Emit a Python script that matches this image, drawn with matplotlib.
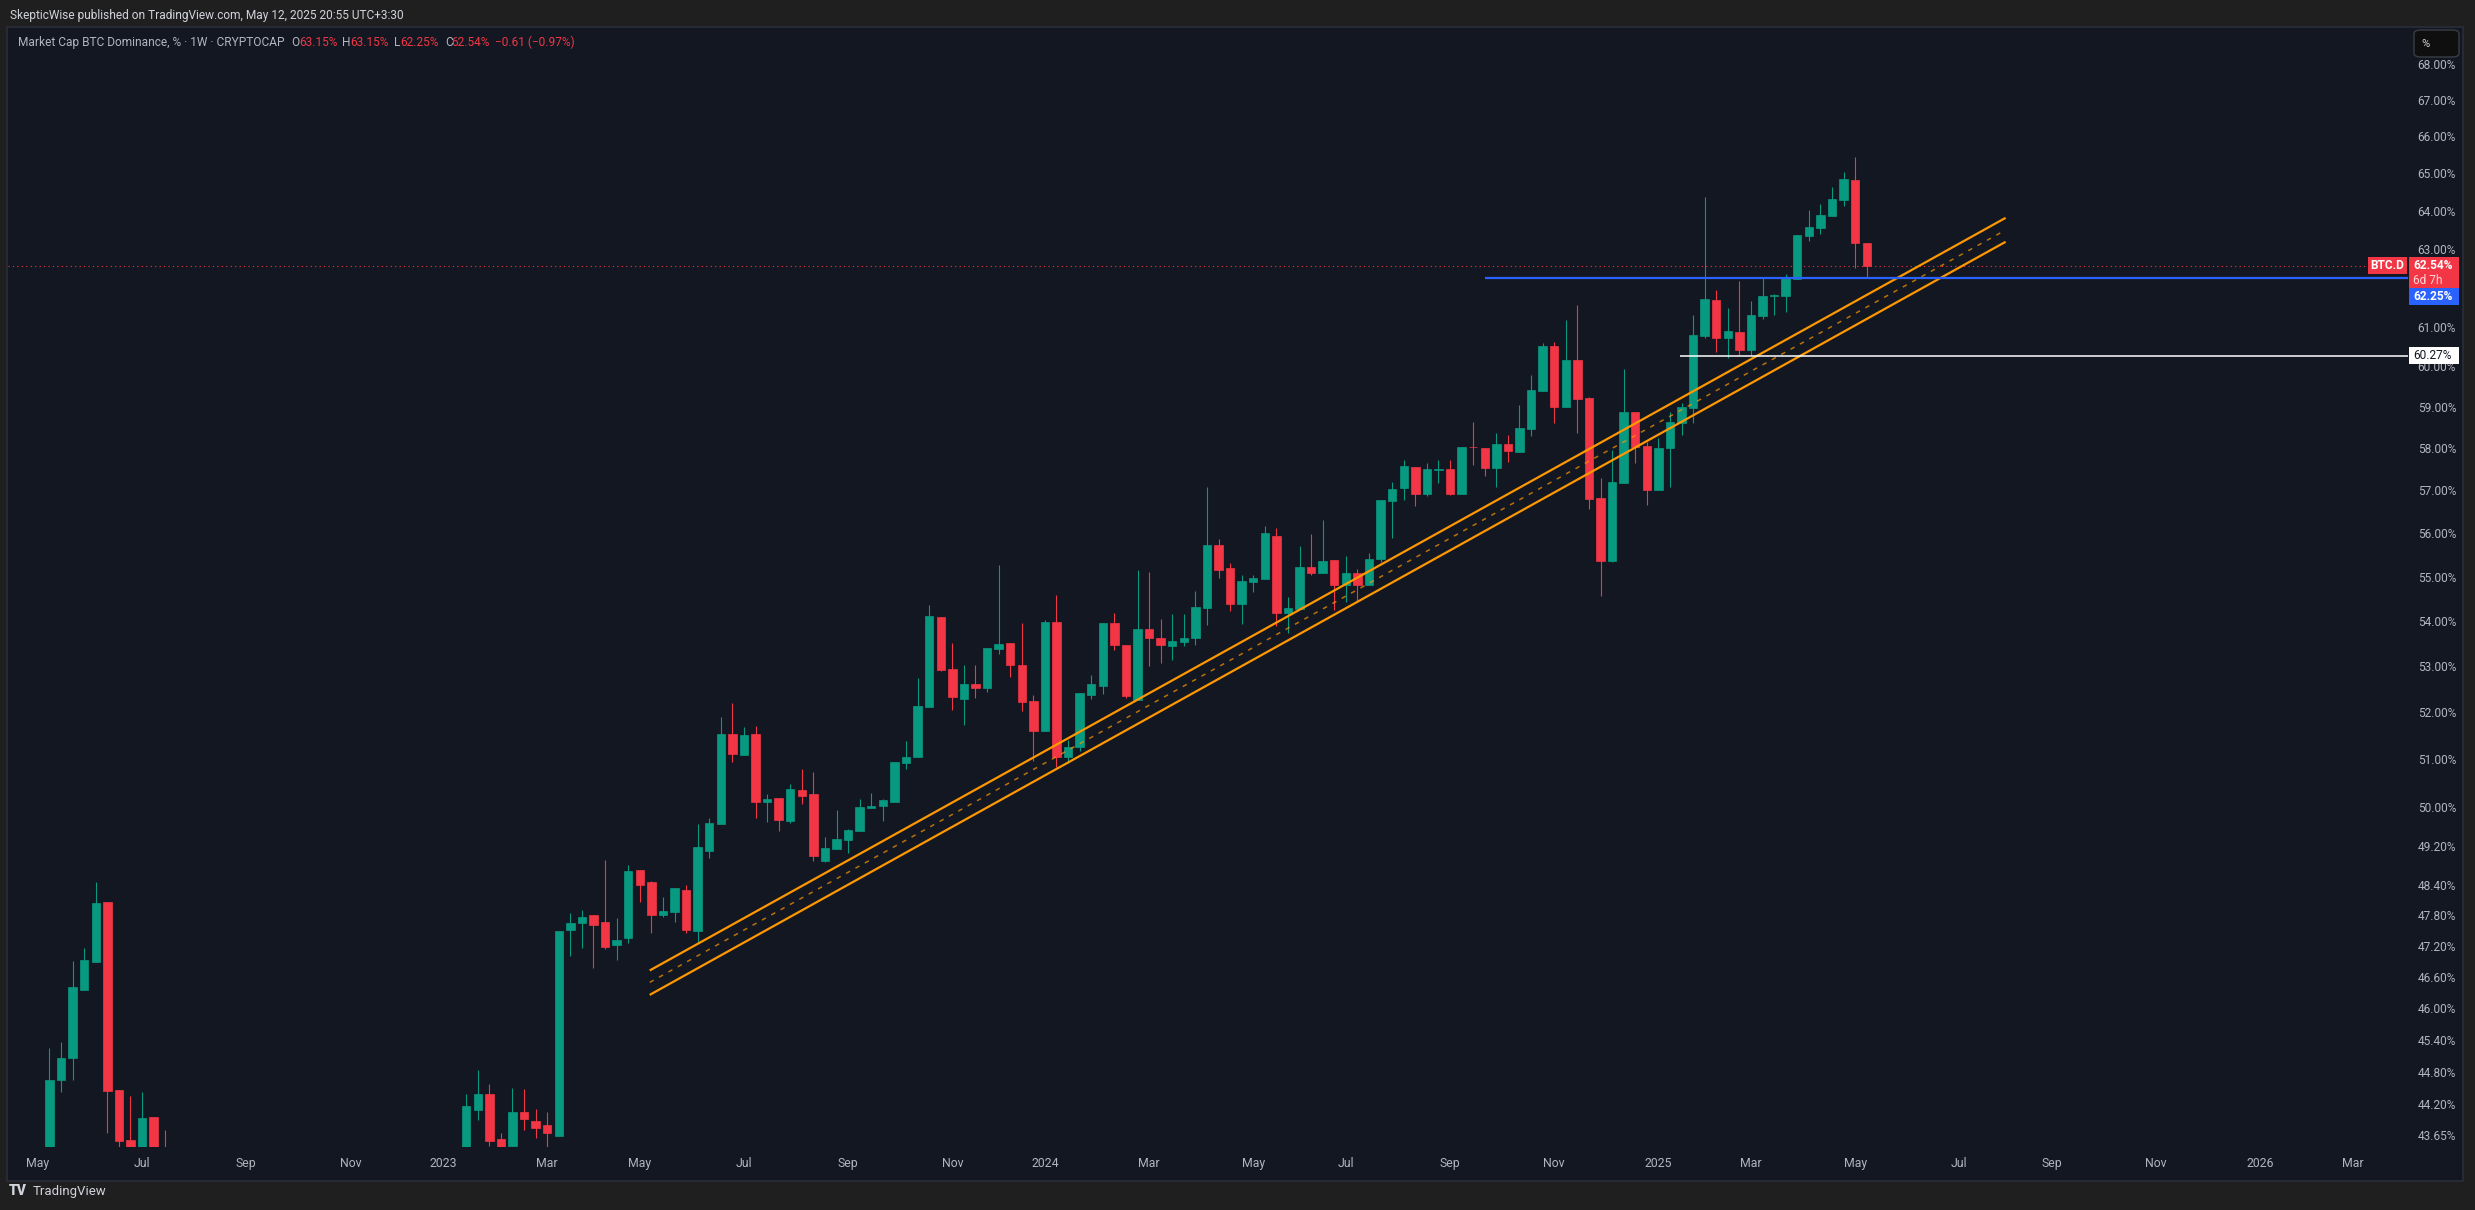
import numpy as np
import pandas as pd
import matplotlib
matplotlib.use("Agg")
import matplotlib.pyplot as plt
import matplotlib.dates as mdates
from matplotlib.patches import Rectangle, FancyBboxPatch

plt.rcParams['font.family'] = ['Roboto', 'DejaVu Sans']

# weekly candles (Monday bars); Aug-Dec 2022 sits below the visible price range
weeks_2022 = pd.date_range('2022-05-09', periods=11, freq='W-MON')
weeks_2023_25 = pd.date_range('2023-01-16', '2025-05-12', freq='W-MON')
dates = list(weeks_2022) + list(weeks_2023_25)

opens = [
    # 2022
    42.6, 44.65, 45.06, 46.35, 46.89, 48.07, 44.46, 43.55, 43.1, 43.97, 43.2,
    # 2023
    43.3, 44.10, 44.39, 43.57, 43.45, 44.06, 43.89, 43.82, 43.63, 47.51,
    47.65, 47.81, 47.67, 47.22, 47.35, 48.71, 48.47, 47.81, 47.87, 48.30,
    47.49, 49.09, 49.64, 51.53, 51.08, 51.53, 50.10, 50.18, 49.70, 50.34,
    50.26, 48.89, 49.13, 49.32, 49.50, 49.98, 50.02, 50.10, 50.92, 51.04,
    52.11, 54.08, 52.93, 52.28, 52.61, 52.52, 53.38, 53.51, 53.02, 52.24,
    # 2024
    51.60, 53.98, 51.04, 51.25, 52.37, 52.57, 53.96, 53.47, 52.26, 53.82,
    53.62, 53.45, 53.53, 53.62, 54.28, 55.73, 55.19, 54.37, 54.88, 54.95,
    55.94, 54.17, 54.26, 55.21, 55.07, 55.37, 54.81, 55.07, 54.81, 55.39,
    56.76, 57.05, 57.55, 56.91, 57.49, 57.50, 56.91, 58.03, 58.00, 57.53,
    58.10, 57.91, 58.47, 59.39, 60.50, 59.00, 60.16, 59.22, 56.83, 55.35,
    57.17, 58.89, 58.05,
    # 2025
    57.00, 58.00, 58.62, 58.97, 60.76, 61.68, 60.70, 60.86, 60.40, 61.27,
    61.78, 61.78, 62.22, 63.33, 63.54, 63.86, 64.29, 64.81, 63.15,
]
highs = [
    45.24, 45.36, 46.90, 47.16, 48.47, 48.07, 44.46, 44.35, 44.43, 43.97, 43.74,
    44.39, 44.83, 44.58, 43.68, 44.50, 44.48, 44.12, 44.06, 47.49, 47.85,
    47.91, 47.81, 48.91, 47.75, 48.81, 48.71, 48.49, 48.16, 48.34, 48.40,
    49.65, 49.76, 51.89, 52.20, 51.68, 51.70, 50.26, 50.18, 50.48, 50.78,
    50.72, 49.38, 49.93, 49.54, 50.16, 50.29, 50.16, 50.94, 51.38, 52.74,
    54.35, 54.08, 53.51, 53.02, 53.02, 53.40, 55.26, 53.51, 53.95, 52.37,
    54.02, 54.58, 51.40, 52.41, 52.81, 53.96, 54.17, 53.47, 55.14, 55.10,
    54.05, 54.15, 54.15, 54.68, 57.07, 55.87, 55.30, 55.03, 55.03, 56.16,
    56.11, 54.53, 55.71, 55.97, 56.30, 55.37, 55.46, 55.17, 55.53, 56.78,
    57.20, 57.71, 57.55, 57.64, 57.71, 57.71, 58.03, 58.64, 58.00, 58.37,
    58.32, 59.06, 59.78, 60.58, 60.61, 61.17, 61.55, 59.24, 57.29, 57.96,
    59.93, 58.89, 58.15,
    58.25, 58.89, 59.10, 61.30, 64.37, 61.94, 61.47, 62.17, 61.65, 62.25,
    61.83, 62.33, 63.35, 64.02, 64.17, 64.64, 65.04, 65.44, 63.15,
]
lows = [
    42.4, 44.43, 44.65, 46.35, 46.89, 43.67, 43.40, 42.8, 42.9, 42.8, 42.5,
    43.1, 43.91, 43.45, 43.2, 43.42, 43.74, 43.59, 43.42, 43.63, 47.00,
    47.16, 46.77, 47.14, 46.92, 47.26, 48.06, 47.45, 47.77, 47.67, 47.45,
    47.26, 48.95, 49.64, 50.94, 51.08, 49.77, 49.68, 49.50, 49.66, 50.06,
    48.89, 48.87, 49.13, 49.05, 49.50, 49.98, 49.70, 50.10, 50.78, 51.04,
    52.11, 52.89, 52.04, 51.72, 52.30, 52.43, 53.27, 52.76, 52.02, 50.96,
    51.60, 50.83, 50.92, 51.17, 52.28, 52.39, 53.36, 52.30, 52.26, 53.00,
    53.07, 53.13, 53.45, 53.47, 53.91, 54.97, 54.21, 53.93, 54.64, 54.95,
    53.89, 53.73, 54.26, 55.03, 55.07, 54.24, 54.42, 54.44, 54.81, 55.33,
    55.89, 56.78, 56.63, 56.86, 57.17, 56.88, 56.91, 57.60, 57.34, 57.08,
    57.67, 57.91, 58.30, 59.39, 58.60, 59.00, 58.38, 56.57, 54.56, 55.33,
    57.17, 57.64, 56.66,
    57.00, 57.08, 58.32, 58.62, 60.70, 60.35, 60.20, 60.28, 60.28, 61.20,
    61.30, 61.37, 62.22, 63.20, 63.38, 63.86, 64.12, 62.50, 62.25,
]
closes = [
    44.65, 45.06, 46.40, 46.92, 48.04, 44.45, 43.54, 43.1, 43.95, 43.2, 42.8,
    44.17, 44.39, 43.53, 43.35, 44.06, 43.93, 43.77, 43.67, 47.49, 47.65,
    47.77, 47.61, 47.18, 47.31, 48.69, 48.40, 47.81, 47.88, 48.34, 47.51,
    49.17, 49.66, 51.53, 51.10, 51.51, 50.10, 50.16, 49.72, 50.36, 50.22,
    48.99, 49.15, 49.34, 49.52, 50.00, 50.02, 50.14, 50.94, 51.04, 52.13,
    54.10, 52.91, 52.33, 52.61, 52.52, 53.40, 53.49, 53.02, 52.22, 51.60,
    53.98, 51.04, 51.25, 52.41, 52.61, 53.96, 53.47, 52.35, 53.82, 53.62,
    53.47, 53.56, 53.62, 54.32, 55.73, 55.14, 54.37, 54.90, 54.97, 55.99,
    54.17, 54.28, 55.21, 55.07, 55.35, 54.81, 55.07, 54.81, 55.39, 56.78,
    57.03, 57.57, 56.91, 57.50, 57.51, 56.91, 58.03, 58.02, 57.53, 58.10,
    57.93, 58.49, 59.41, 60.50, 59.00, 60.16, 59.20, 56.80, 55.35, 57.20,
    58.89, 58.03, 57.00,
    58.00, 58.64, 59.00, 60.80, 61.70, 60.70, 60.88, 60.40, 61.30, 61.78,
    61.80, 62.25, 63.35, 63.56, 63.88, 64.31, 64.84, 63.15, 62.54,
]

# 62.00% is hidden behind the price labels in the reference, so it is left out
price_ticks = [68, 67, 66, 65, 64, 63, 61, 60, 59, 58, 57, 56, 55, 54, 53,
               52, 51, 50, 49.2, 48.4, 47.8, 47.2, 46.6, 46.0, 45.4, 44.8,
               44.2, 43.65]
time_ticks = [(2022, 5), (2022, 7), (2022, 9), (2022, 11), (2023, 1), (2023, 3),
              (2023, 5), (2023, 7), (2023, 9), (2023, 11), (2024, 1), (2024, 3),
              (2024, 5), (2024, 7), (2024, 9), (2024, 11), (2025, 1), (2025, 3),
              (2025, 5), (2025, 7), (2025, 9), (2025, 11), (2026, 1), (2026, 3)]

# drawings
last_close = 62.54
blue_level, blue_from = 62.25, '2024-09-23'
white_level, white_from = 60.27, '2025-01-19'
chan_dates = ['2023-05-07', '2025-08-04']
chan_upper = [46.72, 63.81]
chan_mid = [46.49, 63.49]
chan_lower = [46.25, 63.18]

BG = '#1f1f1f'
PANE = '#131722'
UP = '#089981'
DOWN = '#F23645'
TXT = '#B2B5BE'
ORANGE = '#FF9800'
BLUE = '#2962FF'

W, H = 2475, 1210
fig = plt.figure(figsize=(W / 100, H / 100), dpi=100, facecolor=BG)


def fx(px):
    return px / W


def fy(py):
    return 1 - py / H


def box(x0, y0, x1, y1, color, z=5):
    fig.add_artist(Rectangle((fx(x0), fy(y1)), fx(x1) - fx(x0), fy(y0) - fy(y1),
                             facecolor=color, edgecolor='none', zorder=z))


fig.add_artist(Rectangle((fx(7), fy(1181)), fx(2463) - fx(7), fy(27) - fy(1181),
                         facecolor=PANE, edgecolor='#2a2e39', lw=1.2, zorder=-1))

ax = fig.add_axes([fx(8), fy(1147), fx(2408) - fx(8), fy(28) - fy(1147)])
ax.set_facecolor('none')
ax.set_yscale('log')
for s in ax.spines.values():
    s.set_visible(False)

x = mdates.date2num(dates)
o = np.array(opens)
h = np.array(highs)
l = np.array(lows)
c = np.array(closes)
col = np.where(c >= o, UP, DOWN)
ax.vlines(x, l, h, colors=col, lw=0.8, zorder=2)
ax.bar(x, np.abs(c - o), bottom=np.minimum(o, c), width=5.1, color=col,
       edgecolor=col, linewidth=0.5, zorder=3)

# weekly bar spacing of the reference: 11.575 px, 2023-01-02 sits at x=443 px
x0 = mdates.date2num(pd.Timestamp('2023-01-02'))
ax.set_xlim(x0 + (8 - 443) / 11.575 * 7, x0 + (2408 - 443) / 11.575 * 7)
ax.set_ylim(43.426, 69.03)

# channel
cd = mdates.date2num(pd.to_datetime(chan_dates))
ax.plot(cd, chan_upper, color=ORANGE, lw=1.6, zorder=4, solid_capstyle='butt')
ax.plot(cd, chan_lower, color=ORANGE, lw=1.6, zorder=4, solid_capstyle='butt')
ax.plot(cd, chan_mid, color=ORANGE, lw=1.1, alpha=0.7, ls=(0, (3, 4)), zorder=4)

# horizontal levels
xr = ax.get_xlim()[1]
ax.hlines(blue_level, mdates.date2num(pd.Timestamp(blue_from)), xr, color=BLUE, lw=1.6, zorder=4)
ax.hlines(white_level, mdates.date2num(pd.Timestamp(white_from)), xr, color='white', lw=1.1, zorder=4)
ax.axhline(last_close, xmin=0, xmax=(2368 - 8) / 2400, color=DOWN, lw=0.8,
           ls=(0, (1, 3)), zorder=1)

# axes ticks
ax.yaxis.tick_right()
ax.set_yticks(price_ticks, labels=[f'{v:.2f}%' for v in price_ticks])
ax.minorticks_off()
ax.tick_params(axis='y', length=0, pad=7, labelsize=8.6, labelcolor=TXT)


def first_monday(y, m):
    d = pd.Timestamp(y, m, 1)
    return d + pd.Timedelta(days=(7 - d.weekday()) % 7)


tpos = [mdates.date2num(first_monday(y, m)) for y, m in time_ticks]
tlab = [str(y) if m == 1 else pd.Timestamp(y, m, 1).strftime('%b') for y, m in time_ticks]
ax.set_xticks(tpos, labels=tlab)
ax.tick_params(axis='x', length=0, pad=7, labelsize=8.8, labelcolor=TXT)

# header texts
fig.text(fx(10), fy(15), 'SkepticWise published on TradingView.com, May 12, 2025 20:55 UTC+3:30',
         color='#d1d4dc', fontsize=8.6, va='center', ha='left')
fig.text(fx(18), fy(42.5), 'Market Cap BTC Dominance, % · 1W · CRYPTOCAP',
         color=TXT, fontsize=8.6, va='center', ha='left')
for lx, letter, vx, val in [(291, 'O', 299, '63.15%'), (342, 'H', 350, '63.15%'),
                            (394, 'L', 400, '62.25%'), (445, 'C', 451, '62.54%')]:
    fig.text(fx(lx), fy(42.5), letter, color=TXT, fontsize=8.6, va='center')
    fig.text(fx(vx), fy(42.5), val, color=DOWN, fontsize=8.6, va='center')
fig.text(fx(495), fy(42.5), '−0.61 (−0.97%)', color=DOWN, fontsize=8.6, va='center')

# % button
fig.add_artist(FancyBboxPatch((fx(2414), fy(57)), fx(2459) - fx(2414), fy(30) - fy(57),
                              boxstyle='round,pad=0,rounding_size=0.003',
                              facecolor='#0f0f0f', edgecolor='#3a3d45', lw=1, zorder=5))
fig.text(fx(2426), fy(44), '%', color='#d1d4dc', fontsize=8, va='center', ha='center', zorder=6)

# price-scale labels
box(2368, 257, 2407, 274, DOWN)
fig.text(fx(2387.5), fy(265.5), 'BTC.D', color='white', fontsize=8.6, fontweight='bold',
         va='center', ha='center', zorder=6)
box(2409, 257, 2459, 287.5, DOWN)
fig.text(fx(2413), fy(265), '62.54%', color='white', fontsize=8.6, fontweight='bold',
         va='center', ha='left', zorder=6)
fig.text(fx(2413), fy(280), '6d 7h', color='#ffd3d8', fontsize=8.6,
         va='center', ha='left', zorder=6)
box(2409, 288, 2459, 305, BLUE)
fig.text(fx(2413), fy(296.5), '62.25%', color='white', fontsize=8.6, fontweight='bold',
         va='center', ha='left', zorder=6)
box(2409, 347, 2459, 364, 'white')
fig.text(fx(2413), fy(355.5), '60.27%', color='#131722', fontsize=8.6,
         va='center', ha='left', zorder=6)

# footer logo
fig.text(fx(9), fy(1191), 'TV', color='#d1d4dc', fontsize=10, fontweight='black',
         va='center', ha='left')
fig.text(fx(33), fy(1191), 'TradingView', color='#d1d4dc', fontsize=9.5,
         va='center', ha='left')

fig.savefig('out.png', dpi=100, facecolor=BG)
